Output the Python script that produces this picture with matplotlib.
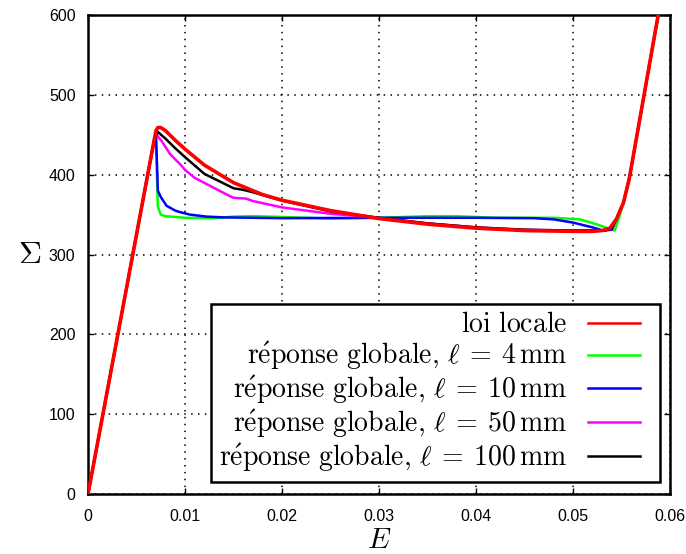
import matplotlib
matplotlib.use("Agg")
import matplotlib.pyplot as plt
import numpy as np

plt.rcParams["mathtext.fontset"] = "cm"
plt.rcParams["font.family"] = ["Liberation Sans", "DejaVu Sans"]

# loi locale
E_loc = [0, 0.0070, 0.0072, 0.0075, 0.008, 0.009, 0.010, 0.012, 0.015, 0.018, 0.020, 0.025,
         0.030, 0.035, 0.040, 0.045, 0.050, 0.052, 0.053, 0.0538, 0.0545, 0.0552, 0.0558, 0.0590]
S_loc = [0, 455, 459, 459, 455, 443, 432, 412, 390, 375, 368, 355,
         345, 338, 333, 330, 329, 329, 330, 333, 345, 365, 395, 615]

# l = 4 mm
E_4 = [0, 0.0068, 0.0070, 0.0071, 0.0072, 0.0075, 0.008, 0.010, 0.013, 0.015, 0.017, 0.020,
       0.025, 0.030, 0.035, 0.038, 0.042, 0.048, 0.0507, 0.0524, 0.0538, 0.0543, 0.0548,
       0.0552, 0.0558, 0.0590]
S_4 = [0, 442, 448, 400, 360, 350, 348, 346, 345.5, 347.5, 348, 347,
       345, 346, 348, 348, 346, 346, 344, 338, 332, 330, 348,
       365, 395, 615]

# l = 10 mm
E_10 = [0, 0.0068, 0.0070, 0.00715, 0.0072, 0.0075, 0.0081, 0.009, 0.0095, 0.0105, 0.0122,
        0.014, 0.017, 0.020, 0.030, 0.040, 0.046, 0.048, 0.050, 0.051, 0.052, 0.0531,
        0.0540, 0.0545, 0.0552, 0.0558, 0.0590]
S_10 = [0, 442, 452, 400, 380, 372, 361, 355, 353, 350, 347.5,
        346.5, 346, 345.5, 346, 346, 345.5, 344, 340, 337, 334, 330,
        331, 345, 365, 395, 615]

# l = 50 mm
E_50 = [0, 0.0068, 0.0070, 0.0076, 0.00845, 0.0095, 0.010, 0.011, 0.0129, 0.014, 0.015,
        0.0163, 0.017, 0.020, 0.025, 0.030, 0.035, 0.040, 0.045, 0.050, 0.052, 0.0533,
        0.054, 0.0545, 0.0552, 0.0558, 0.0590]
S_50 = [0, 442, 451, 442, 426, 413, 406, 396, 384, 377, 371,
        370, 367, 359, 351, 346, 339, 334, 331, 330, 330, 330,
        333, 345, 365, 395, 615]

# l = 100 mm
E_100 = [0, 0.0068, 0.00715, 0.008, 0.009, 0.010, 0.012, 0.015, 0.016, 0.017, 0.020,
         0.025, 0.030, 0.035, 0.040, 0.045, 0.050, 0.052, 0.0533, 0.054, 0.0545, 0.0552,
         0.0558, 0.0590]
S_100 = [0, 442, 454, 445, 433, 422, 401, 383, 381, 378, 367.5,
         354, 346, 339, 334, 331, 330, 330, 330, 333, 345, 365,
         395, 615]

labels = [r"$\mathrm{loi\ locale}$",
          r"$\mathrm{r\acute{e}ponse\ globale,}\,\ell\:=\:4\,\mathrm{mm}$",
          r"$\mathrm{r\acute{e}ponse\ globale,}\,\ell\:=\:10\,\mathrm{mm}$",
          r"$\mathrm{r\acute{e}ponse\ globale,}\,\ell\:=\:50\,\mathrm{mm}$",
          r"$\mathrm{r\acute{e}ponse\ globale,}\,\ell\:=\:100\,\mathrm{mm}$"]

fig = plt.figure(figsize=(6.86, 5.54), dpi=100)
ax = fig.add_axes([0.1283, 0.1083, 0.8484, 0.8646])

ax.plot(E_4, S_4, color="#00ff00", lw=1.8, label=labels[1], zorder=3)
ax.plot(E_10, S_10, color="#0000ff", lw=1.8, label=labels[2], zorder=4)
ax.plot(E_50, S_50, color="#ff00ff", lw=1.8, label=labels[3], zorder=5)
ax.plot(E_100, S_100, color="black", lw=1.8, label=labels[4], zorder=6)
ax.plot(E_loc, S_loc, color="#ff0000", lw=2.6, label=labels[0], zorder=7)

ax.set_xlim(0, 0.06)
ax.set_ylim(0, 600)
ax.set_xticks([0, 0.01, 0.02, 0.03, 0.04, 0.05, 0.06])
ax.set_xticklabels(["0", "0.01", "0.02", "0.03", "0.04", "0.05", "0.06"])
ax.set_yticks(range(0, 601, 100))
ax.tick_params(direction="in", top=True, right=True, length=4, width=1, labelsize=11.5)
ax.tick_params(axis="x", pad=11)
ax.tick_params(axis="y", pad=9)
ax.grid(True, color="black", ls=(0, (1, 3.5)), lw=1.1)
for s in ax.spines.values():
    s.set_linewidth(1.8)

ax.set_xlabel(r"$E$", fontsize=21, labelpad=1)
ax.set_ylabel(r"$\Sigma$", fontsize=23, rotation=0, labelpad=14, va="center")

h, l = ax.get_legend_handles_labels()
order = [4, 0, 1, 2, 3]
leg = ax.legend([h[i] for i in order], [l[i] for i in order], loc="lower right",
                bbox_to_anchor=(0.983, 0.025), borderaxespad=0, markerfirst=False,
                fontsize=20, fancybox=False, framealpha=1, edgecolor="black",
                handlelength=2.3, labelspacing=0.03, handletextpad=0.75, borderpad=0.3)
leg.get_frame().set_linewidth(1.8)
# shorter sample lines, leaving a gap before the right border
for line in leg.get_lines():
    x = line.get_xdata()
    line.set_xdata(np.linspace(x[0], x[0] + (x[-1] - x[0]) * 0.82, len(x)))
    line.set_linewidth(1.8)

fig.savefig("out.png", dpi=100)
